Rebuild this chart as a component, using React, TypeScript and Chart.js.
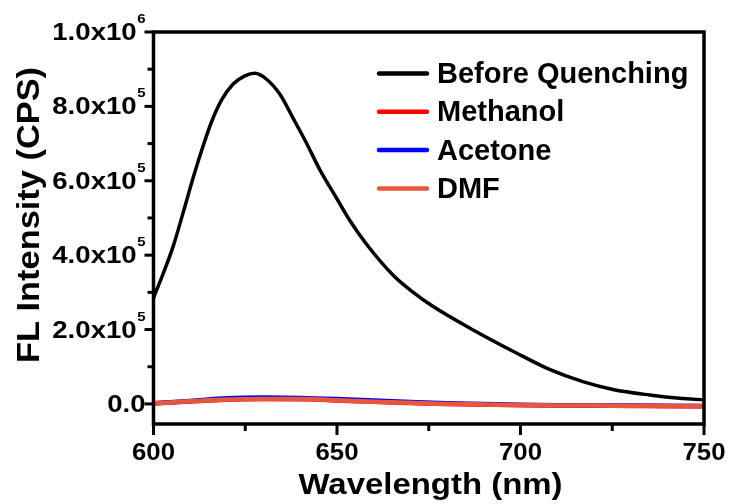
import React, { useEffect, useRef } from 'react';
import { Chart, registerables } from 'chart.js';

Chart.register(...registerables);

// ---- Data ----
const wavelengthBefore = [600, 602.7, 605.4, 608.1, 610.8, 613.6, 615.8, 618.6, 621.7, 624.9, 627.6, 630.8, 634.4, 638.1, 641.7, 645.3, 649.9, 653.5, 658, 665.3, 670.5, 676.2, 687.1, 698.9, 707.9, 717, 725.2, 735.2, 743.4, 750];
const intensityBefore = [285000, 352000, 425000, 515000, 608000, 696000, 758000, 818000, 860000, 882000, 889000, 873000, 833000, 767000, 701000, 630000, 553000, 493000, 430000, 346000, 302000, 262000, 199000, 137000, 93000, 60000, 39000, 24000, 15000, 11000];

const wavelengthSolvent = [600, 610, 620, 630, 640, 650, 660, 670, 680, 690, 700, 710, 720, 730, 740, 750];
const methanolValues = [1000, 6500, 11500, 13000, 12500, 9500, 5500, 2500, -500, -2000, -3500, -4500, -5000, -5500, -6000, -6000];
const acetoneValues = [1500, 8000, 15000, 17000, 16000, 13000, 9000, 5000, 2000, 0, -2000, -3500, -4000, -4500, -5000, -5500];
const dmfValues = [1500, 7000, 12000, 13500, 13000, 10000, 6000, 3000, 0, -1500, -3000, -4000, -4500, -5000, -5500, -5500];

const seriesLabels = ['Before Quenching', 'Methanol', 'Acetone', 'DMF'];
const seriesColors = ['#000000', '#ff0000', '#0000ff', '#e8573c'];

const xMajorTicks = [600, 650, 700, 750];
const xMinorTicks = [625, 675, 725];
const yMajorTicks = [0, 200000, 400000, 600000, 800000, 1000000];
const yMajorMantissa = ['0.0', '2.0x10', '4.0x10', '6.0x10', '8.0x10', '1.0x10'];
const yMajorExponent = ['', '5', '5', '5', '5', '6'];
const yMinorTicks = [100000, 300000, 500000, 700000, 900000];

const xTitle = 'Wavelength (nm)';
const yTitle = 'FL Intensity (CPS)';

const FONT = '"Liberation Sans", Arial, sans-serif';

function drawScaled(ctx: CanvasRenderingContext2D, text: string, x: number, y: number, font: string, align: 'left' | 'center' | 'right', sx: number) {
  ctx.save();
  ctx.font = font;
  const w = ctx.measureText(text).width * sx;
  let sx0 = x;
  if (align === 'center') sx0 = x - w / 2;
  else if (align === 'right') sx0 = x - w;
  ctx.translate(sx0, y);
  ctx.scale(sx, 1);
  ctx.textAlign = 'left';
  ctx.textBaseline = 'alphabetic';
  ctx.fillStyle = '#000';
  ctx.fillText(text, 0, 0);
  ctx.restore();
  return w;
}

function measure(ctx: CanvasRenderingContext2D, text: string, font: string) {
  ctx.save();
  ctx.font = font;
  const w = ctx.measureText(text).width;
  ctx.restore();
  return w;
}

const decorPlugin = {
  id: 'decor',
  afterDraw(chart: any) {
    const ctx: CanvasRenderingContext2D = chart.ctx;
    const { left, top, right, bottom } = chart.chartArea;
    const xs = chart.scales.x;
    const ys = chart.scales.y;

    ctx.save();
    ctx.strokeStyle = '#000';
    ctx.lineWidth = 3.5;
    ctx.lineCap = 'butt';
    ctx.strokeRect(left, top, right - left, bottom - top);

    // x ticks
    ctx.lineWidth = 3;
    xMajorTicks.forEach((v) => {
      const px = xs.getPixelForValue(v);
      ctx.beginPath();
      ctx.moveTo(px, bottom);
      ctx.lineTo(px, bottom + 11);
      ctx.stroke();
    });
    xMinorTicks.forEach((v) => {
      const px = xs.getPixelForValue(v);
      ctx.beginPath();
      ctx.moveTo(px, bottom);
      ctx.lineTo(px, bottom + 7);
      ctx.stroke();
    });
    // y ticks
    yMajorTicks.forEach((v) => {
      const py = ys.getPixelForValue(v);
      ctx.beginPath();
      ctx.moveTo(left, py);
      ctx.lineTo(left - 9, py);
      ctx.stroke();
    });
    yMinorTicks.forEach((v) => {
      const py = ys.getPixelForValue(v);
      ctx.beginPath();
      ctx.moveTo(left, py);
      ctx.lineTo(left - 6, py);
      ctx.stroke();
    });
    ctx.restore();

    // x tick labels
    const xFont = `bold 23px ${FONT}`;
    xMajorTicks.forEach((v) => {
      const px = xs.getPixelForValue(v);
      const t = String(v);
      const nat = measure(ctx, t, xFont);
      drawScaled(ctx, t, px, 460, xFont, 'center', 43 / nat);
    });

    // y tick labels
    const mFont = `bold 23px ${FONT}`;
    const sFont = `bold 13px ${FONT}`;
    const labelRight = left - 8;
    yMajorTicks.forEach((v, i) => {
      const py = ys.getPixelForValue(v);
      const exp = yMajorExponent[i];
      if (exp) {
        const ws = measure(ctx, exp, sFont) * 1.15;
        drawScaled(ctx, exp, labelRight, py - 9, sFont, 'right', 1.15);
        drawScaled(ctx, yMajorMantissa[i], labelRight - ws - 0.5, py + 8, mFont, 'right', 1.2);
      } else {
        drawScaled(ctx, yMajorMantissa[i], labelRight, py + 8, mFont, 'right', 1.2);
      }
    });

    // x title
    const tFont = `bold 29px ${FONT}`;
    const natX = measure(ctx, xTitle, tFont);
    drawScaled(ctx, xTitle, 430.5, 493.5, tFont, 'center', 264 / natX);

    // y title (rotated)
    const yFont = `bold 32px ${FONT}`;
    const natY = measure(ctx, yTitle, yFont);
    ctx.save();
    ctx.translate(38.5, 215);
    ctx.rotate(-Math.PI / 2);
    drawScaled(ctx, yTitle, 0, 0, yFont, 'center', 296 / natY);
    ctx.restore();

    // legend
    const lFont = `bold 29px ${FONT}`;
    const legendY0 = 73.5;
    const legendStep = 38.3;
    seriesLabels.forEach((lab, i) => {
      const ly = legendY0 + i * legendStep;
      ctx.save();
      ctx.strokeStyle = seriesColors[i];
      ctx.lineWidth = 4.5;
      ctx.lineCap = 'round';
      ctx.beginPath();
      ctx.moveTo(379, ly);
      ctx.lineTo(427, ly);
      ctx.stroke();
      ctx.restore();
      drawScaled(ctx, lab, 437, ly + 9.5, lFont, 'left', 1);
    });
  },
};

export default function App() {
  const canvasRef = useRef<HTMLCanvasElement | null>(null);

  useEffect(() => {
    document.body.style.margin = '0';
    const canvas = canvasRef.current;
    if (!canvas) return;

    const toPoints = (xs: number[], ys: number[]) => xs.map((x, i) => ({ x, y: ys[i] }));

    const chart = new Chart(canvas, {
      type: 'line',
      data: {
        datasets: [
          {
            label: seriesLabels[0],
            data: toPoints(wavelengthBefore, intensityBefore),
            borderColor: seriesColors[0],
            borderWidth: 3.5,
            pointRadius: 0,
            cubicInterpolationMode: 'monotone',
            order: 0,
          },
          {
            label: seriesLabels[1],
            data: toPoints(wavelengthSolvent, methanolValues),
            borderColor: seriesColors[1],
            borderWidth: 4.5,
            pointRadius: 0,
            cubicInterpolationMode: 'monotone',
            order: 3,
          },
          {
            label: seriesLabels[2],
            data: toPoints(wavelengthSolvent, acetoneValues),
            borderColor: seriesColors[2],
            borderWidth: 4.5,
            pointRadius: 0,
            cubicInterpolationMode: 'monotone',
            order: 2,
          },
          {
            label: seriesLabels[3],
            data: toPoints(wavelengthSolvent, dmfValues),
            borderColor: seriesColors[3],
            borderWidth: 4.5,
            pointRadius: 0,
            cubicInterpolationMode: 'monotone',
            order: 1,
          },
        ],
      },
      options: {
        responsive: false,
        animation: false,
        events: [],
        layout: { padding: { left: 153.5, right: 28, top: 32, bottom: 80 } },
        plugins: { legend: { display: false }, tooltip: { enabled: false } },
        scales: {
          x: { type: 'linear', min: 600, max: 750, display: false },
          y: { type: 'linear', min: -54000, max: 1000000, display: false },
        },
      },
      plugins: [decorPlugin],
    } as any);

    return () => chart.destroy();
  }, []);

  return (
    <div style={{ width: 732, height: 504, background: '#fff' }}>
      <canvas ref={canvasRef} width={732} height={504} style={{ display: 'block' }} />
    </div>
  );
}
